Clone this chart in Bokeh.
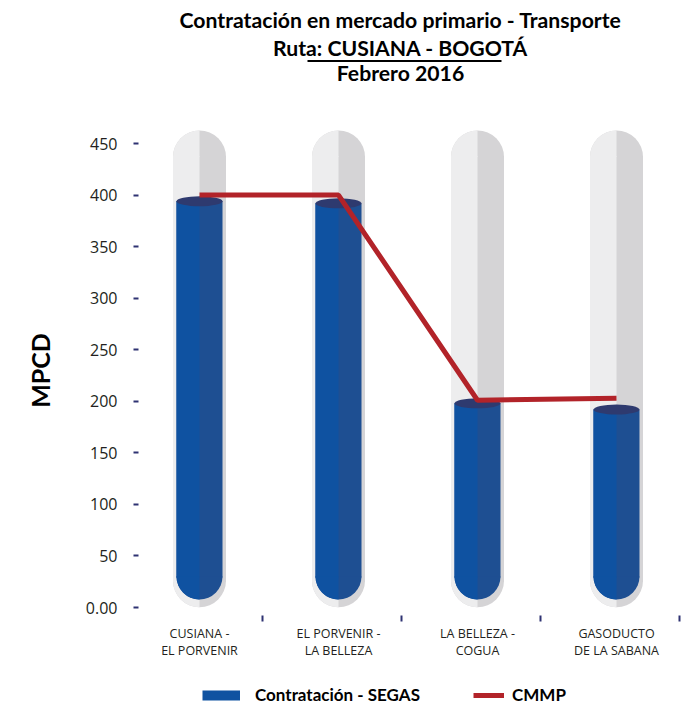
from math import pi
from bokeh.plotting import figure
from bokeh.layouts import column
from bokeh.models import Range1d, FixedTicker, Legend, LegendItem, ColumnDataSource
from bokeh.core.properties import value
from bokeh.embed import file_html
from bokeh.resources import INLINE

# ---------------- data ----------------
categories = ["CUSIANA -\nEL PORVENIR", "EL PORVENIR -\nLA BELLEZA",
              "LA BELLEZA -\nCOGUA", "GASODUCTO\nDE LA SABANA"]
segas = [394, 392, 198, 192]          # Contratación - SEGAS
cmmp = [400, 400, 201, 203]           # CMMP
y_ticks = [0, 50, 100, 150, 200, 250, 300, 350, 400, 450]
y_tick_labels = ["0.00", "50", "100", "150", "200", "250", "300", "350", "400", "450"]
title_lines = ["Contratación en mercado primario - Transporte",
               "Ruta: CUSIANA - BOGOTÁ",
               "Febrero 2016"]
series_names = ["Contratación - SEGAS", "CMMP"]
tube_top = 437        # top of straight part of background tube
tube_bottom = 26      # bottom of straight part of background tube
fill_bottom = 30      # bottom of straight part of blue fill

GRAY_L, GRAY_R = "#ededee", "#d5d4d6"
BLUE_L, BLUE_R = "#0f52a1", "#1e4f92"
TOP_C = "#2e3a6f"
RED = "#b22329"
NAVY = "#2e3272"
INK = "#231f20"

W = 696
TITLE_H, MAIN_H, LEG_H = 100, 570, 36
BORDER_L, BORDER_R = 138, 6          # shared frame edges (column aligns frames)
FRAME_L, FRAME_R = BORDER_L, W - BORDER_R

# ---------------- title strip ----------------
pt = figure(width=W, height=TITLE_H, output_backend="svg", toolbar_location=None,
            x_range=Range1d(FRAME_L, FRAME_R), y_range=Range1d(TITLE_H, 0),
            x_axis_location=None, y_axis_location=None,
            min_border_left=BORDER_L, min_border_right=BORDER_R,
            min_border_top=0, min_border_bottom=0)
pt.outline_line_color = None
pt.grid.visible = False
tsrc = ColumnDataSource(dict(x=[400, 400, 400], y=[19, 47, 72], t=title_lines))
pt.text(x="x", y="y", text="t", source=tsrc, text_font=value("Lato"),
        text_font_style="bold", text_font_size="21.2px", text_align="center",
        text_baseline="alphabetic", text_color="black")
pt.segment(x0=[307], y0=[60.5], x1=[501], y1=[60.5], line_width=2, line_color="black")

# ---------------- main chart ----------------
BORDER_T, BORDER_B = 25, 55
X_UNIT = 139.0          # px per category
Y_SCALE = 1.031         # px per MPCD
frame_w = W - BORDER_L - BORDER_R
frame_h = MAIN_H - BORDER_T - BORDER_B
x_start = -61.0 / X_UNIT
x_end = x_start + frame_w / X_UNIT
y_start = -8.0 / Y_SCALE
y_end = y_start + frame_h / Y_SCALE

xs = list(range(len(categories)))
hw = 26.5 / X_UNIT     # tube half width
bw = 23.0 / X_UNIT     # fill half width

p = figure(width=W, height=MAIN_H, output_backend="svg", toolbar_location=None,
           x_range=Range1d(x_start, x_end), y_range=Range1d(y_start, y_end),
           min_border_left=BORDER_L, min_border_right=BORDER_R,
           min_border_top=BORDER_T, min_border_bottom=BORDER_B)
p.outline_line_color = None
p.xgrid.visible = False
p.ygrid.visible = False

src = ColumnDataSource(dict(
    x=xs, segas=segas, cmmp=cmmp,
    gl=[x - hw for x in xs], gr=[x + hw for x in xs],
    bl=[x - bw for x in xs], br=[x + bw for x in xs],
))

# background tubes: darker full shape, lighter left half on top
p.quad(left="gl", right="gr", bottom=tube_bottom - 1, top=tube_top + 1, source=src,
       fill_color=GRAY_R, line_color=None)
p.wedge(x="x", y=tube_top, radius=hw, start_angle=0, end_angle=pi,
        source=src, fill_color=GRAY_R, line_color=None)
p.wedge(x="x", y=tube_bottom, radius=hw, start_angle=pi, end_angle=2 * pi,
        source=src, fill_color=GRAY_R, line_color=None)
p.quad(left="gl", right="x", bottom=tube_bottom - 1, top=tube_top + 1, source=src,
       fill_color=GRAY_L, line_color=None)
p.wedge(x="x", y=tube_top, radius=hw, start_angle=pi / 2, end_angle=pi,
        source=src, fill_color=GRAY_L, line_color=None)
p.wedge(x="x", y=tube_bottom, radius=hw, start_angle=pi, end_angle=1.5 * pi,
        source=src, fill_color=GRAY_L, line_color=None)

# blue fills
p.quad(left="bl", right="br", bottom=fill_bottom - 1, top="segas", source=src,
       fill_color=BLUE_R, line_color=None)
p.wedge(x="x", y=fill_bottom, radius=bw, start_angle=pi, end_angle=2 * pi,
        source=src, fill_color=BLUE_R, line_color=None)
p.quad(left="bl", right="x", bottom=fill_bottom - 1, top="segas", source=src,
       fill_color=BLUE_L, line_color=None)
p.wedge(x="x", y=fill_bottom, radius=bw, start_angle=pi, end_angle=1.5 * pi,
        source=src, fill_color=BLUE_L, line_color=None)
p.ellipse(x="x", y="segas", width=2 * bw, height=10, height_units="screen",
          source=src, fill_color=TOP_C, line_color=None)

# CMMP line
p.line(x="x", y="cmmp", source=src, line_width=5, line_color=RED)

# axes
xa = p.xaxis[0]
xa.ticker = FixedTicker(ticks=xs, minor_ticks=[x + 0.45 for x in xs])
xa.major_label_overrides = {x: c for x, c in zip(xs, categories)}
xa.axis_line_color = None
xa.major_tick_line_color = None
xa.major_tick_out = 0
xa.major_tick_in = 0
xa.minor_tick_line_color = NAVY
xa.minor_tick_line_width = 2
xa.minor_tick_out = 6
xa.minor_tick_in = 0
xa.major_label_standoff = 3
xa.major_label_text_font = "Open Sans"
xa.major_label_text_font_size = "12.5px"
xa.major_label_text_line_height = 1.0
xa.major_label_text_color = INK

ya = p.yaxis[0]
ya.ticker = FixedTicker(ticks=y_ticks, minor_ticks=[])
ya.major_label_overrides = {t: l for t, l in zip(y_ticks, y_tick_labels)}
ya.axis_line_color = None
ya.major_tick_line_color = NAVY
ya.major_tick_line_width = 2
ya.major_tick_out = 5
ya.major_tick_in = 0
ya.minor_tick_line_color = None
ya.major_label_standoff = 16
ya.major_label_text_font = "Open Sans"
ya.major_label_text_font_size = "16px"
ya.major_label_text_color = INK
ya.axis_label = "MPCD"
ya.axis_label_text_font = "Lato"
ya.axis_label_text_font_style = "bold"
ya.axis_label_text_font_size = "25px"
ya.axis_label_text_color = "black"
ya.axis_label_standoff = 28

# ---------------- legend strip ----------------
pl = figure(width=W, height=LEG_H, output_backend="svg", toolbar_location=None,
            x_range=Range1d(FRAME_L, FRAME_R), y_range=Range1d(LEG_H, 0),
            x_axis_location=None, y_axis_location=None,
            min_border_left=BORDER_L, min_border_right=BORDER_R,
            min_border_top=0, min_border_bottom=0)
pl.outline_line_color = None
pl.grid.visible = False
# legend keys (single off-view point each, so only the legend swatch is seen)
blue_key = pl.line(x=[FRAME_L], y=[-50], line_width=10, line_color=BLUE_L, line_cap="butt")
red_key = pl.line(x=[FRAME_L], y=[-50], line_width=5, line_color=RED, line_cap="butt")
leg_common = dict(orientation="horizontal", padding=0, margin=0, border_line_color=None,
                  background_fill_alpha=0, label_text_font="Lato",
                  label_text_font_style="bold", label_text_font_size="17px",
                  label_text_color="black", label_height=20, glyph_height=12)
leg1 = Legend(items=[LegendItem(label=value(series_names[0]), renderers=[blue_key])],
              location=(202 - FRAME_L, 1), glyph_width=38, label_standoff=15, **leg_common)
leg2 = Legend(items=[LegendItem(label=value(series_names[1]), renderers=[red_key])],
              location=(473 - FRAME_L, 1), glyph_width=31, label_standoff=8, **leg_common)
pl.add_layout(leg1)
pl.add_layout(leg2)

layout = column(pt, p, pl, spacing=0)
open("out.html", "w").write(file_html(layout, INLINE))
